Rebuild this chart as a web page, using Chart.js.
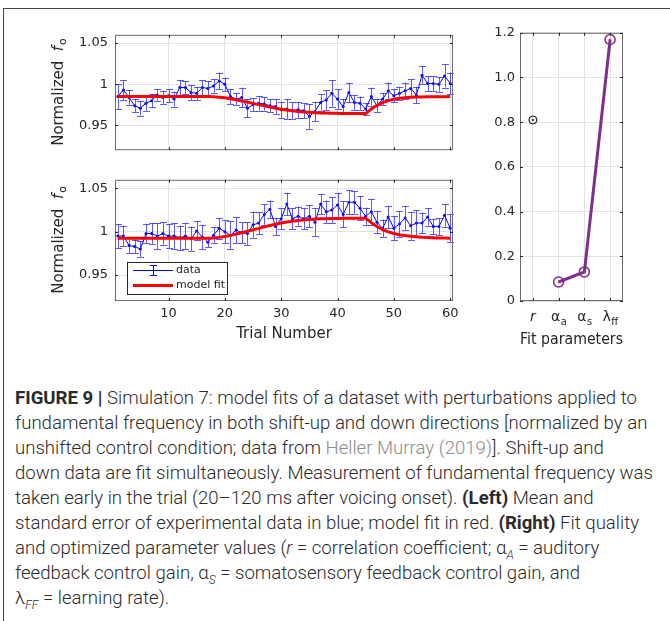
<!DOCTYPE html>
<html>
<head>
<meta charset="utf-8">
<script src="https://cdn.jsdelivr.net/npm/chart.js@4.4.1/dist/chart.umd.min.js"></script>
<style>
body { margin: 0; background: #fff; }
#page { position: relative; width: 670px; height: 621px; overflow: hidden; background: #fff; }
#page canvas { position: absolute; }
#frame { position: absolute; left: 3px; top: 8px; right: -3px; bottom: -3px; border-left: 1px solid #444; border-top: 1px solid #444; }
#caption { position: absolute; left: 15px; top: 386px; font-family: Roboto, sans-serif; font-weight: 300; font-size: 18.6px; line-height: 25px; color: #2a2a2a; white-space: nowrap; }
#caption b { font-weight: 700; }
#caption sub { font-size: 12px; line-height: 0; }
#caption .ref { color: #8c8c8c; }
</style>
</head>
<body>
<div id="page">
	<div id="frame"></div>
	<canvas id="upChart" width="470" height="145" style="left:0;top:20px"></canvas>
	<canvas id="downChart" width="470" height="185" style="left:0;top:165px"></canvas>
	<canvas id="paramChart" width="190" height="330" style="left:470px;top:20px"></canvas>
	<div id="caption">
		<div><b>FIGURE 9 |</b> Simulation 7: model fits of a dataset with perturbations applied to</div>
		<div>fundamental frequency in both shift-up and down directions [normalized by an</div>
		<div>unshifted control condition; data from <span class="ref">Heller Murray (2019)</span>]. Shift-up and</div>
		<div>down data are fit simultaneously. Measurement of fundamental frequency was</div>
		<div>taken early in the trial (20–120 ms after voicing onset). <b>(Left)</b> Mean and</div>
		<div>standard error of experimental data in blue; model fit in red. <b>(Right)</b> Fit quality</div>
		<div>and optimized parameter values (<i>r</i> = correlation coefficient; α<sub><i>A</i></sub> = auditory</div>
		<div>feedback control gain, α<sub><i>S</i></sub> = somatosensory feedback control gain, and</div>
		<div>λ<sub><i>FF</i></sub> = learning rate).</div>
	</div>
</div>
<script>
const trials = [1, 2, 3, 4, 5, 6, 7, 8, 9, 10, 11, 12, 13, 14, 15, 16, 17, 18, 19, 20,
	21, 22, 23, 24, 25, 26, 27, 28, 29, 30, 31, 32, 33, 34, 35, 36, 37, 38, 39, 40,
	41, 42, 43, 44, 45, 46, 47, 48, 49, 50, 51, 52, 53, 54, 55, 56, 57, 58, 59, 60];
const trialTicks = [10, 20, 30, 40, 50, 60];
const foTicks = [0.95, 1, 1.05];

// shift-up trials (top panel)
const upMean = [0.985, 0.993, 0.984, 0.974, 0.971, 0.977, 0.980, 0.987, 0.984, 0.986,
	0.982, 0.996, 0.996, 0.990, 0.989, 0.996, 0.995, 0.998, 1.004, 1.000,
	0.985, 0.982, 0.984, 0.971, 0.975, 0.977, 0.976, 0.974, 0.973, 0.969,
	0.970, 0.968, 0.969, 0.968, 0.961, 0.967, 0.978, 0.981, 0.989, 0.982,
	0.973, 0.990, 0.978, 0.977, 0.970, 0.985, 0.974, 0.982, 0.992, 0.986,
	0.989, 0.992, 0.995, 0.987, 1.011, 1.001, 1.001, 1.000, 1.010, 1.001];
const upErr = [0.015, 0.012, 0.009, 0.008, 0.009, 0.009, 0.008, 0.007, 0.008, 0.008,
	0.009, 0.009, 0.008, 0.009, 0.008, 0.009, 0.009, 0.008, 0.010, 0.008,
	0.009, 0.007, 0.012, 0.011, 0.008, 0.009, 0.008, 0.008, 0.009, 0.010,
	0.012, 0.010, 0.010, 0.009, 0.015, 0.012, 0.010, 0.012, 0.016, 0.012,
	0.009, 0.012, 0.009, 0.008, 0.007, 0.011, 0.008, 0.007, 0.010, 0.008,
	0.008, 0.010, 0.011, 0.010, 0.011, 0.009, 0.009, 0.009, 0.014, 0.013];
const upFit = [0.985, 0.985, 0.985, 0.985, 0.985, 0.985, 0.985, 0.985, 0.985, 0.985,
	0.985, 0.985, 0.985, 0.985, 0.985, 0.985, 0.985, 0.9848, 0.9843, 0.9835,
	0.9825, 0.9812, 0.9798, 0.9783, 0.9768, 0.9753, 0.9738, 0.9724, 0.9710, 0.9698,
	0.9687, 0.9678, 0.9670, 0.9664, 0.9659, 0.9655, 0.9652, 0.9650, 0.9648, 0.9647,
	0.9646, 0.9645, 0.9645, 0.9645, 0.9645, 0.9700, 0.9745, 0.9778, 0.9802, 0.9818,
	0.9829, 0.9836, 0.9841, 0.9844, 0.9846, 0.9847, 0.9848, 0.9849, 0.9849, 0.9850];

// shift-down trials (bottom panel)
const downMean = [0.995, 0.995, 0.984, 0.983, 0.980, 0.998, 0.998, 0.995, 0.998, 0.995,
	0.995, 0.993, 0.995, 0.992, 1.001, 0.994, 0.988, 0.996, 1.004, 1.000,
	0.996, 1.002, 0.999, 0.998, 1.008, 1.010, 1.020, 1.026, 1.006, 1.015,
	1.032, 1.015, 1.018, 1.015, 1.018, 1.011, 1.032, 1.023, 1.025, 1.031,
	1.020, 1.034, 1.034, 1.027, 1.018, 1.023, 1.011, 1.004, 1.017, 1.004,
	1.009, 1.016, 1.007, 1.010, 1.010, 1.017, 1.006, 1.006, 1.019, 1.004];
const downErr = [0.014, 0.012, 0.009, 0.008, 0.009, 0.011, 0.012, 0.015, 0.013, 0.014,
	0.015, 0.014, 0.015, 0.014, 0.011, 0.014, 0.006, 0.009, 0.012, 0.013,
	0.016, 0.015, 0.012, 0.013, 0.015, 0.013, 0.012, 0.010, 0.010, 0.012,
	0.013, 0.012, 0.011, 0.012, 0.013, 0.016, 0.012, 0.013, 0.015, 0.014,
	0.015, 0.014, 0.013, 0.014, 0.010, 0.015, 0.013, 0.010, 0.013, 0.014,
	0.015, 0.014, 0.016, 0.015, 0.012, 0.010, 0.009, 0.010, 0.013, 0.016];
const downFit = [0.9925, 0.9925, 0.9925, 0.9925, 0.9925, 0.9925, 0.9925, 0.9925, 0.9925, 0.9925,
	0.9925, 0.9925, 0.9925, 0.9925, 0.9925, 0.9925, 0.9925, 0.9928, 0.9935, 0.9945,
	0.9958, 0.9973, 0.9989, 1.0005, 1.0022, 1.0039, 1.0056, 1.0072, 1.0087, 1.0100,
	1.0112, 1.0122, 1.0130, 1.0137, 1.0142, 1.0146, 1.0149, 1.0151, 1.0153, 1.0154,
	1.0155, 1.0155, 1.0155, 1.0155, 1.0155, 1.0105, 1.0060, 1.0025, 0.9999, 0.9980,
	0.9966, 0.9956, 0.9948, 0.9942, 0.9937, 0.9934, 0.9931, 0.9929, 0.9927, 0.9926];

// right panel
const paramPos = [1, 2, 3, 4];
const paramSymbols = ["r", "α", "α", "λ"];
const paramSubs = ["", "a", "s", "ff"];
const fitR = 0.81;
const gainValues = [0.085, 0.13, 1.17];
const paramTicks = [0, 0.2, 0.4, 0.6, 0.8, 1, 1.2];

const INK = "#262626";
const GRID = "#e2e2e2";
const FONT = "DejaVu Sans";
Chart.defaults.font.family = FONT;
Chart.defaults.color = INK;

const toXY = (xs, ys) => xs.map((x, i) => ({x, y: ys[i]}));

// MATLAB-like box around the axes, with short inward ticks
const boxPlugin = {
	id: "box",
	afterDraw(chart) {
		const {ctx, chartArea: a, scales} = chart;
		ctx.save();
		ctx.strokeStyle = "#6b6b6b";
		ctx.lineWidth = 1;
		ctx.strokeRect(a.left + 0.5, a.top + 0.5, a.right - a.left - 1, a.bottom - a.top - 1);
		ctx.strokeStyle = INK;
		ctx.beginPath();
		for (const t of scales.x.ticks) {
			const x = Math.round(scales.x.getPixelForValue(t.value)) + 0.5;
			ctx.moveTo(x, a.bottom); ctx.lineTo(x, a.bottom - 3);
			ctx.moveTo(x, a.top); ctx.lineTo(x, a.top + 3);
		}
		for (const t of scales.y.ticks) {
			const y = Math.round(scales.y.getPixelForValue(t.value)) + 0.5;
			ctx.moveTo(a.left, y); ctx.lineTo(a.left + 3, y);
			ctx.moveTo(a.right, y); ctx.lineTo(a.right - 3, y);
		}
		ctx.stroke();
		ctx.restore();
	}
};

// vertical error bars for one dataset, drawn right after it so the fit stays on top
const errorBarPlugin = {
	id: "errorBars",
	afterDatasetDraw(chart, args, opts) {
		if (!opts.err || args.index !== opts.index) return;
		const {ctx, scales: {x: xs, y: ys}} = chart;
		const pts = chart.data.datasets[args.index].data;
		ctx.save();
		ctx.strokeStyle = "rgba(30,30,255,0.72)";
		ctx.lineWidth = 1;
		ctx.beginPath();
		pts.forEach((p, i) => {
			const x = Math.round(xs.getPixelForValue(p.x)) + 0.5;
			const y1 = ys.getPixelForValue(p.y + opts.err[i]);
			const y2 = ys.getPixelForValue(p.y - opts.err[i]);
			ctx.moveTo(x, y1); ctx.lineTo(x, y2);
			ctx.moveTo(x - 3.5, Math.round(y1) + 0.5); ctx.lineTo(x + 3.5, Math.round(y1) + 0.5);
			ctx.moveTo(x - 3.5, Math.round(y2) + 0.5); ctx.lineTo(x + 3.5, Math.round(y2) + 0.5);
		});
		ctx.stroke();
		ctx.restore();
	}
};

// "Normalized f_o" with italic f and subscript o
const foTitlePlugin = {
	id: "foTitle",
	afterDraw(chart) {
		const {ctx, chartArea: a} = chart;
		const parts = [
			["Normalized  ", `15px "${FONT}"`, 0],
			["f", `italic 15px "${FONT}"`, 0],
			["o", `11px "${FONT}"`, 4]
		];
		ctx.save();
		ctx.translate(59, (a.top + a.bottom) / 2);
		ctx.rotate(-Math.PI / 2);
		ctx.fillStyle = INK;
		ctx.textBaseline = "middle";
		let total = 0;
		for (const p of parts) { ctx.font = p[1]; total += ctx.measureText(p[0]).width; }
		let x = -total / 2;
		for (const p of parts) {
			ctx.font = p[1];
			ctx.fillText(p[0], x, p[2]);
			x += ctx.measureText(p[0]).width + (p[0] === "f" ? 1 : 0);
		}
		ctx.restore();
	}
};

const legendPlugin = {
	id: "boxLegend",
	afterDraw(chart, args, opts) {
		if (!opts.show) return;
		const {ctx, chartArea: a} = chart;
		const [dataSet, fitSet] = chart.data.datasets;
		const left = a.left + 12, top = a.bottom - 39, w = 100, h = 32;
		ctx.save();
		ctx.fillStyle = "#fff";
		ctx.fillRect(left, top, w, h);
		ctx.strokeStyle = INK;
		ctx.lineWidth = 1;
		ctx.strokeRect(left + 0.5, top + 0.5, w, h);
		const y1 = top + 8.5, y2 = top + 23.5;
		ctx.strokeStyle = dataSet.borderColor;
		ctx.beginPath();
		ctx.moveTo(left + 6, y1); ctx.lineTo(left + 46, y1);
		ctx.moveTo(left + 26.5, y1 - 5); ctx.lineTo(left + 26.5, y1 + 5);
		ctx.moveTo(left + 23, y1 - 5); ctx.lineTo(left + 30, y1 - 5);
		ctx.moveTo(left + 23, y1 + 5); ctx.lineTo(left + 30, y1 + 5);
		ctx.stroke();
		ctx.strokeStyle = fitSet.borderColor;
		ctx.lineWidth = 3;
		ctx.beginPath();
		ctx.moveTo(left + 6, y2); ctx.lineTo(left + 46, y2);
		ctx.stroke();
		ctx.fillStyle = INK;
		ctx.font = `11px "${FONT}"`;
		ctx.textBaseline = "middle";
		ctx.fillText(dataSet.label, left + 49, y1);
		ctx.fillText(fitSet.label, left + 49, y2);
		ctx.restore();
	}
};

function trialChart(id, mean, err, fit, showX) {
	return new Chart(document.getElementById(id), {
		type: "line",
		data: {
			datasets: [{
				label: "data",
				data: toXY(trials, mean),
				borderColor: "#0000ff",
				borderWidth: 1,
				pointRadius: 1.5,
				pointBorderWidth: 0,
				pointBackgroundColor: "#0000ff",
				order: 2
			}, {
				label: "model fit",
				data: toXY(trials, fit),
				borderColor: "#ff0000",
				borderWidth: 3,
				pointRadius: 0,
				order: 1
			}]
		},
		options: {
			responsive: false,
			animation: false,
			events: [],
			layout: {
				autoPadding: false,
				padding: showX ? {top: 7, right: 17, bottom: 0, left: 0} : {top: 12, right: 17, bottom: 8, left: 0}
			},
			plugins: {
				legend: {display: false},
				tooltip: {enabled: false},
				errorBars: {err, index: 0},
				boxLegend: {show: showX}
			},
			scales: {
				x: {
					type: "linear",
					min: 0.5,
					max: 60.5,
					afterBuildTicks: s => { s.ticks = trialTicks.map(value => ({value})); },
					afterFit: s => { s.height = showX ? 49 : 0; },
					grid: {color: GRID, drawTicks: false},
					border: {display: false},
					ticks: {display: showX, padding: 5, font: {size: 13}},
					title: {display: showX, text: "Trial Number", font: {size: 15}, padding: {top: 0, bottom: 7}}
				},
				y: {
					min: 0.92,
					max: 1.06,
					afterBuildTicks: s => { s.ticks = foTicks.map(value => ({value})); },
					afterFit: s => { s.width = 115; },
					grid: {color: GRID, drawTicks: false},
					border: {display: false},
					ticks: {padding: 7, font: {size: 13}, callback: v => v === 1 ? "1" : v.toFixed(2)}
				}
			}
		},
		plugins: [errorBarPlugin, boxPlugin, foTitlePlugin, legendPlugin]
	});
}

trialChart("upChart", upMean, upErr, upFit, false);
trialChart("downChart", downMean, downErr, downFit, true);

const paramLabelPlugin = {
	id: "paramLabels",
	afterDraw(chart) {
		const {ctx, chartArea: a, scales: {x: xs}} = chart;
		ctx.save();
		ctx.fillStyle = INK;
		ctx.textBaseline = "alphabetic";
		paramSymbols.forEach((sym, i) => {
			const mainFont = i === 0 ? `italic 14px "${FONT}"` : `14px "${FONT}"`;
			const subFont = `10px "${FONT}"`;
			ctx.font = mainFont;
			const w1 = ctx.measureText(sym).width;
			ctx.font = subFont;
			const w2 = ctx.measureText(paramSubs[i]).width;
			let x = xs.getPixelForValue(paramPos[i]) - (w1 + w2) / 2;
			const y = a.bottom + 20;
			ctx.font = mainFont;
			ctx.fillText(sym, x, y);
			ctx.font = subFont;
			ctx.fillText(paramSubs[i], x + w1 + 0.5, y + 4);
		});
		ctx.restore();
	}
};

new Chart(document.getElementById("paramChart"), {
	type: "line",
	data: {
		datasets: [{
			label: "r",
			data: [{x: paramPos[0], y: fitR}],
			showLine: false,
			pointRadius: 4,
			pointBorderWidth: 1,
			pointBorderColor: "#000",
			pointBackgroundColor: "rgba(0,0,0,0)"
		}, {
			label: "r centre",
			data: [{x: paramPos[0], y: fitR}],
			showLine: false,
			pointRadius: 1,
			pointBorderWidth: 0,
			pointBackgroundColor: "#000"
		}, {
			label: "gains",
			data: toXY(paramPos.slice(1), gainValues),
			borderColor: "#7e2f8e",
			borderWidth: 3,
			pointRadius: 5,
			pointBorderWidth: 1.6,
			pointBorderColor: "#7e2f8e",
			pointBackgroundColor: "rgba(0,0,0,0)"
		}, {
			label: "gain centres",
			data: toXY(paramPos.slice(1), gainValues),
			showLine: false,
			pointRadius: 1,
			pointBorderWidth: 0,
			pointBackgroundColor: "#d95319"
		}]
	},
	options: {
		responsive: false,
		animation: false,
		events: [],
		layout: {autoPadding: false, padding: {top: 12, right: 37, bottom: 0, left: 0}},
		plugins: {legend: {display: false}, tooltip: {enabled: false}},
		scales: {
			x: {
				type: "linear",
				min: 0.5,
				max: 4.5,
				afterBuildTicks: s => { s.ticks = paramPos.map(value => ({value})); },
				afterFit: s => { s.height = 49; },
				grid: {color: GRID, drawTicks: false},
				border: {display: false},
				ticks: {callback: () => ""},
				title: {display: true, text: "Fit parameters", font: {size: 15}, padding: {top: 0, bottom: 1}}
			},
			y: {
				min: 0,
				max: 1.2,
				afterBuildTicks: s => { s.ticks = paramTicks.map(value => ({value})); },
				afterFit: s => { s.width = 50; },
				grid: {color: GRID, drawTicks: false},
				border: {display: false},
				ticks: {padding: 5, font: {size: 13}}
			}
		}
	},
	plugins: [boxPlugin, paramLabelPlugin]
});
</script>
</body>
</html>
